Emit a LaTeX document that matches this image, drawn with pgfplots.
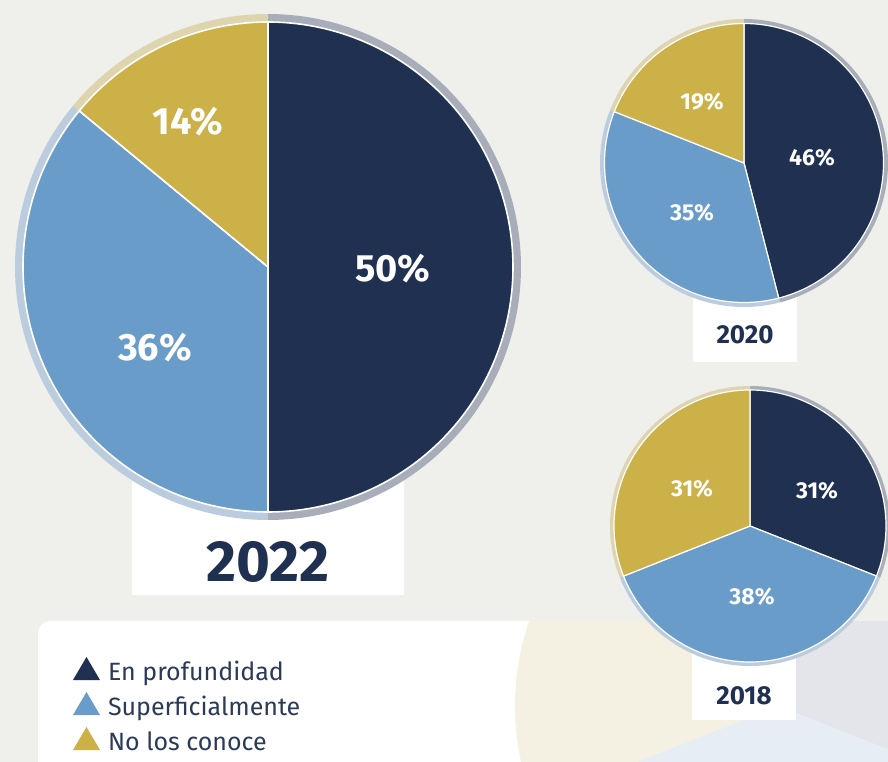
\documentclass[border=0pt]{standalone}
\usepackage{fontspec}
\setmainfont{Fira Sans}
\usepackage{pgfplots}
\pgfplotsset{compat=1.18}
\definecolor{bg}{HTML}{EFEFEB}
\definecolor{navy}{HTML}{1F3050}
\definecolor{lblue}{HTML}{699CC8}
\definecolor{gold}{HTML}{CBB148}
\definecolor{navyring}{HTML}{A8ADBA}
\definecolor{bluering}{HTML}{BACCDD}
\definecolor{goldring}{HTML}{DED5AE}
\definecolor{pgold}{HTML}{F4F1E3}
\definecolor{pgray}{HTML}{E3E5EA}
\definecolor{pblue}{HTML}{E7EDF4}
\definecolor{txt}{HTML}{2B3A57}

% slice: cx, cy, R, from (cum. %), to (cum. %), fill colour, extra options
\newcommand{\slice}[7]{%
  \pgfmathsetmacro\angA{90-3.6*#4}%
  \pgfmathsetmacro\angB{90-3.6*#5}%
  \edef\doslice{\noexpand\addplot[forget plot, fill=#6, #7, line join=round, domain=\angB:\angA, samples=160, variable=\noexpand\t]
     ({#1+#3*cos(\noexpand\t)}, {#2+#3*sin(\noexpand\t)}) -- (axis cs:#1,#2) -- cycle;}%
  \doslice}

% percentages (En profundidad, Superficialmente, No los conoce)
% 2022: 50 36 14 ; 2020: 46 35 19 ; 2018: 31 38 31

\pgfplotsset{legendtri/.style={legend image code/.code={%
  \fill[##1, draw=none] (0pt,-6pt) -- (27pt,-6pt) -- (13.5pt,17pt) -- cycle;}}}

\begin{document}
\begin{tikzpicture}
\begin{axis}[width=888pt, height=761pt, scale only axis,
  xmin=0, xmax=888, ymin=0, ymax=761, hide axis, clip=true,
  legend cell align=left,
  legend style={at={(axis cs:73,104)}, anchor=north west, draw=none, fill=none,
    inner sep=0pt, outer sep=0pt, row sep=6pt, column sep=8pt,
    font=\fontsize{25}{28}\selectfont, text=txt,
    nodes={inner sep=0pt, text height=18pt, text depth=6pt}},
]
% background
\fill[bg] (axis cs:-10,-10) rectangle (axis cs:900,780);
% legend panel
\fill[white, rounded corners=12pt] (axis cs:38,-40) rectangle (axis cs:940,140);
% decorative pale pie behind legend
\slice{778}{55}{263}{0}{31}{pgray}{draw=none}
\slice{778}{55}{263}{31}{69}{pblue}{draw=none}
\slice{778}{55}{263}{69}{100}{pgold}{draw=none}
\fill[bg] (axis cs:300,140) rectangle (axis cs:900,780);

% year boxes
\fill[white] (axis cs:132,166) rectangle (axis cs:404,300);
\fill[white] (axis cs:693,399) rectangle (axis cs:797,481);
\fill[white] (axis cs:692,41) rectangle (axis cs:796,121);

% 2022 pie
\slice{268}{494}{253}{0}{50}{navyring}{draw=none}
\slice{268}{494}{253}{50}{86}{bluering}{draw=none}
\slice{268}{494}{253}{86}{100}{goldring}{draw=none}
\slice{268}{494}{245}{0}{50}{navy}{draw=white, line width=1.6pt}
\slice{268}{494}{245}{50}{86}{lblue}{draw=white, line width=1.6pt}
\slice{268}{494}{245}{86}{100}{gold}{draw=white, line width=1.6pt}

% 2020 pie
\slice{744}{598}{144}{0}{46}{navyring}{draw=none}
\slice{744}{598}{144}{46}{81}{bluering}{draw=none}
\slice{744}{598}{144}{81}{100}{goldring}{draw=none}
\slice{744}{598}{139.5}{0}{46}{navy}{draw=white, line width=1.2pt}
\slice{744}{598}{139.5}{46}{81}{lblue}{draw=white, line width=1.2pt}
\slice{744}{598}{139.5}{81}{100}{gold}{draw=white, line width=1.2pt}

% 2018 pie
\slice{750}{235}{140}{0}{31}{navyring}{draw=none}
\slice{750}{235}{140}{31}{69}{bluering}{draw=none}
\slice{750}{235}{140}{69}{100}{goldring}{draw=none}
\slice{750}{235}{136}{0}{31}{navy}{draw=white, line width=1.2pt}
\slice{750}{235}{136}{31}{69}{lblue}{draw=white, line width=1.2pt}
\slice{750}{235}{136}{69}{100}{gold}{draw=white, line width=1.2pt}

% value labels
\begin{scope}[every node/.style={text=white, font=\bfseries\fontsize{38}{40}\selectfont}]
\node at (axis cs:188,639) {14\%};
\node at (axis cs:393,492) {50\%};
\node at (axis cs:155,413) {36\%};
\end{scope}
\begin{scope}[every node/.style={text=white, font=\bfseries\fontsize{23}{25}\selectfont}]
\node at (axis cs:702,659) {19\%};
\node at (axis cs:812,603) {46\%};
\node at (axis cs:692,548) {35\%};
\node at (axis cs:692,272) {31\%};
\node at (axis cs:817,270) {31\%};
\node at (axis cs:752,164) {38\%};
\end{scope}
% years
\node[text=navy, font=\bfseries\fontsize{58}{60}\selectfont] at (axis cs:268,199) {2022};
\node[text=navy, font=\bfseries\fontsize{26}{28}\selectfont] at (axis cs:745,426) {2020};
\node[text=navy, font=\bfseries\fontsize{26}{28}\selectfont] at (axis cs:744,65) {2018};

\addlegendimage{legendtri, fill=navy}
\addlegendentry{En profundidad}
\addlegendimage{legendtri, fill=lblue}
\addlegendentry{Superficialmente}
\addlegendimage{legendtri, fill=gold}
\addlegendentry{No los conoce}
\end{axis}
\pgfresetboundingbox
\path[use as bounding box] (0,0) rectangle (888pt,761pt);
\end{tikzpicture}
\end{document}
